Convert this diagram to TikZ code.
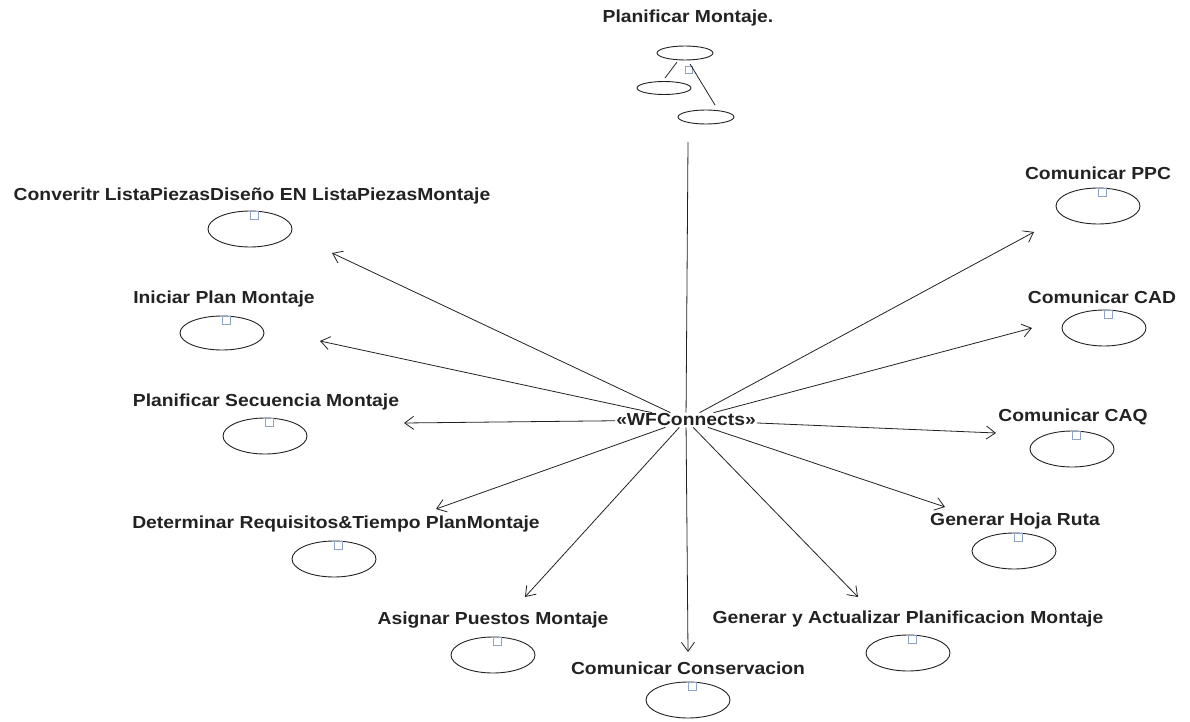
\documentclass[tikz,border=0pt]{standalone}
\usepackage{fontspec}
\setmainfont{Liberation Sans}[FakeStretch=1.11]
\usetikzlibrary{arrows.meta,shapes.geometric}
\definecolor{ink}{HTML}{222222}
\definecolor{tagblue}{HTML}{8FA4C4}
\begin{document}
\begin{tikzpicture}[x=1pt,y=-1pt,
  lbl/.style={font=\bfseries\fontsize{17.4}{19}\selectfont, text=ink, inner sep=0pt},
  uc/.style={draw=ink, ellipse, minimum width=84pt, minimum height=36pt, inner sep=0pt, line width=0.9pt},
  ucs/.style={draw=ink, ellipse, minimum width=56pt, minimum height=14pt, inner sep=0pt, line width=0.9pt},
  tagbox/.style={draw=tagblue, fill=white, minimum size=8pt, inner sep=0pt, line width=0.8pt, anchor=north},
  link/.style={draw=ink, line width=0.8pt, -{Straight Barb[length=9pt,width=13pt,line width=0.8pt]}},
  plain/.style={draw=ink, line width=0.8pt},
]
\useasboundingbox (0,0) rectangle (1190,722);

% composite activity at the top
\node[lbl] (tplan) at (688,18) {Planificar Montaje.};
\node[ucs] (s0) at (685,53) {};
\node[ucs, minimum width=54pt, minimum height=13pt] (s1) at (664,88) {};
\node[ucs] (s2) at (706,117) {};
\node[tagbox, minimum size=7pt] (s0tag) at (689,66) {};
\coordinate (s1a) at (677,62);
\coordinate (s1b) at (665,78);
\coordinate (s2a) at (690,64);
\coordinate (s2b) at (715,105);
\draw[plain] (s1a) -- (s1b);
\draw[plain] (s2a) -- (s2b);
\coordinate (topend) at (688,142);

% hub
\node[lbl, inner sep=1pt] (wf) at (686,420) {«WFConnects»};

% use cases: label, ellipse, tag
\node[lbl] (t1) at (252,196) {Converitr ListaPiezasDiseño EN ListaPiezasMontaje};
\node[uc] (u1) at (250,229) {};
\node[lbl] (t2) at (224,299) {Iniciar Plan Montaje};
\node[uc, minimum height=34pt] (u2) at (222,333) {};
\node[lbl] (t3) at (266,402) {Planificar Secuencia Montaje};
\node[uc] (u3) at (265,436) {};
\node[lbl] (t4) at (336,524) {Determinar Requisitos\&Tiempo PlanMontaje};
\node[uc] (u4) at (334,559) {};
\node[lbl] (t5) at (493,620) {Asignar Puestos Montaje};
\node[uc] (u5) at (493,655) {};
\node[lbl] (t6) at (688,668) {Comunicar Conservacion};
\node[uc] (u6) at (688,700) {};
\node[lbl] (t7) at (908,619) {Generar y Actualizar Planificacion Montaje};
\node[uc] (u7) at (908,653) {};
\node[lbl] (t8) at (1015,521) {Generar Hoja Ruta};
\node[uc] (u8) at (1014,551) {};
\node[lbl] (t9) at (1073,417) {Comunicar CAQ};
\node[uc] (u9) at (1072,449) {};
\node[lbl] (t10) at (1102,297) {Comunicar CAD};
\node[uc] (u10) at (1104,328) {};
\node[lbl] (t11) at (1098,173) {Comunicar PPC};
\node[uc] (u11) at (1098,206) {};

\foreach \u in {u1,u2,u3,u4,u5,u6,u7,u8,u9,u10,u11}
  \node[tagbox] (\u tag) at ([xshift=4pt]\u.north) {};

% arrow ends
\coordinate (e1) at (332,253);
\coordinate (e2) at (320,341);
\coordinate (e3) at (404,423);
\coordinate (e4) at (436,509);
\coordinate (e5) at (525,597);
\coordinate (e6) at (688,652);
\coordinate (e7) at (858,597);
\coordinate (e8) at (945,507);
\coordinate (e9) at (996,433);
\coordinate (e10) at (1032,328);
\coordinate (e11) at (1034,232);

\draw[plain] (wf) -- (topend);
\foreach \e in {e1,e2,e3,e4,e5,e6,e7,e8,e9,e10,e11}
  \draw[link] (wf) -- (\e);
\end{tikzpicture}
\end{document}
